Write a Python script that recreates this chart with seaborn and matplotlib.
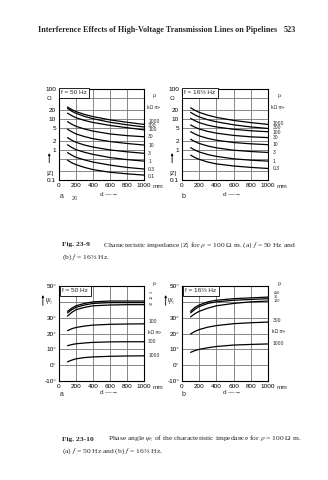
import numpy as np
import pandas as pd
import matplotlib
matplotlib.use("Agg")
import matplotlib.pyplot as plt
import matplotlib.transforms as mtrans
import seaborn as sns

sns.set_theme(style="white")
plt.rcParams["font.family"] = ["Liberation Sans", "DejaVu Sans"]
plt.rcParams["mathtext.fontset"] = "stix"

# ---------------- data ----------------
d_mm = [100, 150, 200, 300, 400, 600, 800, 1000]

# Fig 23-9 (a) |Z| in ohm, f = 50 Hz, per coating resistance rho_s (kOhm m^2)
z50_labels = ["1000", "300", "100", "30", "10", "3", "1", "0.3", "0.1"]
z50_1000 = [25.5, 21, 18, 14.5, 12.3, 9.6, 8.0, 6.8]
z50_300 = [23, 18.5, 15.8, 12.5, 10.5, 8.0, 6.6, 5.6]
z50_100 = [16, 13.2, 11.3, 9.2, 7.9, 6.3, 5.3, 4.5]
z50_30 = [8.4, 6.9, 5.9, 4.8, 4.1, 3.3, 2.9, 2.67]
z50_10 = [4.7, 3.9, 3.3, 2.7, 2.3, 1.85, 1.6, 1.42]
z50_3 = [2.5, 2.05, 1.75, 1.42, 1.22, 0.98, 0.85, 0.76]
z50_1 = [1.45, 1.18, 1.0, 0.82, 0.7, 0.55, 0.47, 0.42]
z50_03 = [0.8, 0.66, 0.56, 0.46, 0.39, 0.31, 0.26, 0.23]
z50_01 = [0.45, 0.37, 0.32, 0.26, 0.22, 0.18, 0.16, 0.145]
z50_series = [z50_1000, z50_300, z50_100, z50_30, z50_10, z50_3, z50_1, z50_03, z50_01]

# Fig 23-9 (b) |Z|, f = 16 2/3 Hz
z16_labels = ["1000", "300", "100", "30", "10", "3", "1", "0.3"]
z16_1000 = [24, 19.8, 17, 13.7, 11.6, 9.2, 7.8, 6.8]
z16_300 = [17, 14, 12, 9.7, 8.3, 6.6, 5.6, 5.0]
z16_100 = [10.8, 9.0, 7.8, 6.4, 5.6, 4.7, 4.2, 3.9]
z16_30 = [6.5, 5.5, 4.8, 4.0, 3.5, 2.95, 2.65, 2.5]
z16_10 = [3.9, 3.3, 2.85, 2.35, 2.05, 1.72, 1.56, 1.46]
z16_3 = [2.2, 1.85, 1.6, 1.32, 1.15, 0.96, 0.87, 0.81]
z16_1 = [1.16, 0.97, 0.84, 0.69, 0.6, 0.5, 0.45, 0.42]
z16_03 = [0.66, 0.55, 0.48, 0.39, 0.34, 0.29, 0.26, 0.24]
z16_series = [z16_1000, z16_300, z16_100, z16_30, z16_10, z16_3, z16_1, z16_03]

# Fig 23-10 (a) phase angle (deg), f = 50 Hz
p50_labels = ["3", "10", "30", "100", "300", "1000"]
p50_3 = [34, 36, 37.5, 39, 40, 40.5, 40.5, 40.5]
p50_10 = [33, 35, 36.5, 38, 39, 39.5, 39.5, 39.5]
p50_30 = [31, 33.3, 35, 36.5, 37.5, 38, 38.2, 38.2]
p50_100 = [21.8, 23, 23.8, 24.7, 25.3, 25.8, 26, 26.1]
p50_300 = [12.3, 13, 13.5, 14, 14.4, 14.7, 14.8, 14.8]
p50_1000 = [2.1, 3.2, 4.0, 4.8, 5.2, 5.6, 5.8, 5.9]
p50_series = [p50_3, p50_10, p50_30, p50_100, p50_300, p50_1000]

# Fig 23-10 (b) phase angle (deg), f = 16 2/3 Hz
p16_labels = ["\u226410", "30", "100", "300", "1000"]
p16_10 = [34, 36.5, 38, 40, 41, 42, 42.5, 43]
p16_30 = [33, 35.3, 37, 39, 40, 41, 41.5, 42]
p16_100 = [30.5, 32.5, 34, 36, 37.5, 39, 40, 40.5]
p16_300 = [19.7, 21.3, 22.5, 24, 25, 26.2, 26.8, 27.2]
p16_1000 = [8.1, 9.2, 10, 11, 11.8, 12.7, 13.1, 13.4]
p16_series = [p16_10, p16_30, p16_100, p16_300, p16_1000]

x_ticks = [0, 200, 400, 600, 800, 1000]
z_ticks = [0.1, 1, 2, 5, 10, 20, 100]
z_tick_labels = ["0.1", "1", "2", "5", "10", "20", "100"]
p_ticks = [-10, 0, 10, 20, 30, 40, 50]
p_tick_labels = ["-10\u00b0", "0\u00b0", "10\u00b0", "20\u00b0", "30\u00b0", "", "50\u00b0"]

# ---------------- figure ----------------
W, H = 328, 480
fig = plt.figure(figsize=(W / 100, H / 100), dpi=100)
fig.patch.set_facecolor("white")


def frac_box(l, t, r, b):
    return [l / W, 1 - b / H, (r - l) / W, (b - t) / H]


def long_df(series, labels):
    rows = []
    for lab, vals in zip(labels, series):
        for d, v in zip(d_mm, vals):
            rows.append({"d": d, "v": v, "rho": lab})
    return pd.DataFrame(rows)


TICK_FS = 4.6
SMALL_FS = 3.6
CAP_FS = 5.4
SERIF = ["Liberation Serif", "DejaVu Serif"]


def base_axes(ax):
    ax.set_xlim(0, 1000)
    ax.set_xticks(x_ticks)
    ax.set_xticklabels([str(t) for t in x_ticks])
    for s in ax.spines.values():
        s.set_color("black")
        s.set_linewidth(0.8)
    ax.tick_params(axis="both", length=0, pad=2, labelsize=TICK_FS, colors="black")
    ax.set_xlabel("")
    ax.set_ylabel("")
    for xv in [200, 400, 600, 800]:
        ax.axvline(xv, color="0.45", lw=0.6, zorder=0)
    ax.text(1.1, -0.045, "mm", transform=ax.transAxes, fontsize=TICK_FS,
            ha="left", va="top")


def z_panel(ax, series, labels, ftext, label_pos):
    df = long_df(series, labels)
    sns.lineplot(data=df, x="d", y="v", units="rho", estimator=None,
                 color="black", lw=0.9, ax=ax, legend=False)
    ax.set_yscale("log")
    ax.set_ylim(0.1, 100)
    ax.set_yticks(z_ticks)
    ax.set_yticklabels(z_tick_labels)
    ax.minorticks_off()
    base_axes(ax)
    for yv in [0.2, 0.5, 1, 2, 5, 10, 20, 50]:
        ax.axhline(yv, color="0.45", lw=0.6, zorder=0)
    ax.text(0.025, 0.985, ftext, transform=ax.transAxes, fontsize=TICK_FS,
            ha="left", va="top", zorder=5,
            bbox=dict(boxstyle="square,pad=0.35", fc="white", ec="black", lw=0.6))
    tr = mtrans.blended_transform_factory(ax.transAxes, ax.transData)
    ax.text(-0.115, 50, "\u03a9", transform=tr, fontsize=TICK_FS, ha="center", va="center")
    ax.text(-0.10, 0.165, "|Z|", transform=tr, fontsize=TICK_FS, ha="center", va="center")
    ax.annotate("", xy=(-0.115, 0.95), xytext=(-0.115, 0.3), xycoords=tr,
                textcoords=tr, annotation_clip=False,
                arrowprops=dict(arrowstyle="-|>", lw=0.6, color="black",
                                mutation_scale=3))
    ax.text(1.1, 58, "\u03c1$_s$", transform=tr, fontsize=SMALL_FS, ha="left", va="center")
    ax.text(1.03, 24, "k\u03a9 m\u00b2", transform=tr, fontsize=SMALL_FS, ha="left", va="center")
    for lab, yv in zip(labels, label_pos):
        ax.text(1.05, yv, lab, transform=tr, fontsize=SMALL_FS, ha="left", va="center")


def p_panel(ax, series, labels, ftext, label_pos, top_labels, top_rot):
    df = long_df(series, labels)
    sns.lineplot(data=df, x="d", y="v", units="rho", estimator=None,
                 color="black", lw=0.9, ax=ax, legend=False)
    ax.set_ylim(-10, 50)
    ax.set_yticks(p_ticks)
    ax.set_yticklabels(p_tick_labels)
    base_axes(ax)
    for yv in [0, 10, 20, 30, 40]:
        ax.axhline(yv, color="0.45", lw=0.6, zorder=0)
    ax.text(0.04, 0.975, ftext, transform=ax.transAxes, fontsize=TICK_FS,
            ha="left", va="top", zorder=5,
            bbox=dict(boxstyle="square,pad=0.35", fc="white", ec="black", lw=0.6))
    tr = mtrans.blended_transform_factory(ax.transAxes, ax.transData)
    ax.text(-0.12, 40.5, "$\\psi_z$", transform=tr, fontsize=TICK_FS + 1,
            ha="center", va="center")
    ax.annotate("", xy=(-0.19, 46), xytext=(-0.19, 36), xycoords=tr,
                textcoords=tr, annotation_clip=False,
                arrowprops=dict(arrowstyle="-|>", lw=0.6, color="black",
                                mutation_scale=3))
    ax.text(1.1, 51.2, "\u03c1$_s$", transform=tr, fontsize=SMALL_FS, ha="left", va="center")
    for lab, yv in top_labels:
        ax.text(1.07, yv, lab, transform=tr, fontsize=2.7, ha="left", va="center",
                rotation=top_rot)
    for lab, yv in label_pos:
        ax.text(1.05, yv, lab, transform=tr, fontsize=SMALL_FS, ha="left", va="center")


# header
fig.text(38 / W, 1 - 30 / H, "Interference Effects of High-Voltage Transmission Lines on Pipelines",
         fontsize=5.9, fontweight="bold", family=SERIF, ha="left", va="center")
fig.text(296 / W, 1 - 30 / H, "523", fontsize=5.9, fontweight="bold", family=SERIF,
         ha="right", va="center")

# Fig 23-9
ax1 = fig.add_axes(frac_box(59, 89, 144, 180))
z_panel(ax1, z50_series, z50_labels, "f = 50 Hz",
        [8.8, 6.3, 4.5, 2.67, 1.42, 0.76, 0.42, 0.23, 0.135])
ax2 = fig.add_axes(frac_box(182, 89, 268, 180))
z_panel(ax2, z16_series, z16_labels, "f = 16\u2154 Hz",
        [7.4, 5.3, 3.8, 2.5, 1.46, 0.81, 0.42, 0.24])

fig.text(60 / W, 1 - 196 / H, "a", fontsize=TICK_FS + 0.4, ha="left", va="center")
fig.text(72 / W, 1 - 198 / H, "20", fontsize=TICK_FS - 0.6, ha="left", va="center", color="0.3")
fig.text(100 / W, 1 - 195 / H, "d \u2014\u2192", fontsize=TICK_FS, ha="left", va="center")
fig.text(182 / W, 1 - 196 / H, "b", fontsize=TICK_FS + 0.4, ha="left", va="center")
fig.text(223 / W, 1 - 195 / H, "d \u2014\u2192", fontsize=TICK_FS, ha="left", va="center")

fig.text(62 / W, 1 - 245 / H, "Fig. 23-9", fontsize=CAP_FS, fontweight="bold", family=SERIF,
         ha="left", va="center")
fig.text(103 / W, 1 - 245 / H,
         "Characteristic impedance |Z| for $\\rho$ = 100 \u03a9 m. (a) $f$ = 50 Hz and",
         fontsize=CAP_FS, family=SERIF, ha="left", va="center")
fig.text(62 / W, 1 - 257 / H, "(b) $f$ = 16\u2154 Hz.", fontsize=CAP_FS, family=SERIF,
         ha="left", va="center")

# Fig 23-10
ax3 = fig.add_axes(frac_box(59, 286, 144, 381))
p_panel(ax3, p50_series, p50_labels, "f = 50 Hz",
        [("100", 27.5), ("k\u03a9 m\u00b2", 20.5), ("300", 14.8), ("1000", 5.9)],
        [("3", 46.5), ("10", 43.3), ("30", 39.6)], 90)
ax4 = fig.add_axes(frac_box(182, 286, 268, 381))
p_panel(ax4, p16_series, p16_labels, "f = 16\u2154 Hz",
        [("300", 28.5), ("k\u03a9 m\u00b2", 21.0), ("1000", 13.4)],
        [("\u226410", 45.6), ("30", 43.1), ("100", 40.6)], 0)

fig.text(60 / W, 1 - 394 / H, "a", fontsize=TICK_FS + 0.4, ha="left", va="center")
fig.text(100 / W, 1 - 393 / H, "d \u2014\u2192", fontsize=TICK_FS, ha="left", va="center")
fig.text(182 / W, 1 - 394 / H, "b", fontsize=TICK_FS + 0.4, ha="left", va="center")
fig.text(223 / W, 1 - 393 / H, "d \u2014\u2192", fontsize=TICK_FS, ha="left", va="center")

fig.text(62 / W, 1 - 439 / H, "Fig. 23-10", fontsize=CAP_FS, fontweight="bold", family=SERIF,
         ha="left", va="center")
fig.text(108 / W, 1 - 439 / H,
         "Phase angle $\\psi_z$ of the characteristic impedance for $\\rho$ = 100 \u03a9 m.",
         fontsize=CAP_FS, family=SERIF, ha="left", va="center")
fig.text(62 / W, 1 - 451 / H, "(a) $f$ = 50 Hz and (b) $f$ = 16\u2154 Hz.", fontsize=CAP_FS,
         family=SERIF, ha="left", va="center")

fig.savefig("out.png", dpi=100, facecolor="white")
